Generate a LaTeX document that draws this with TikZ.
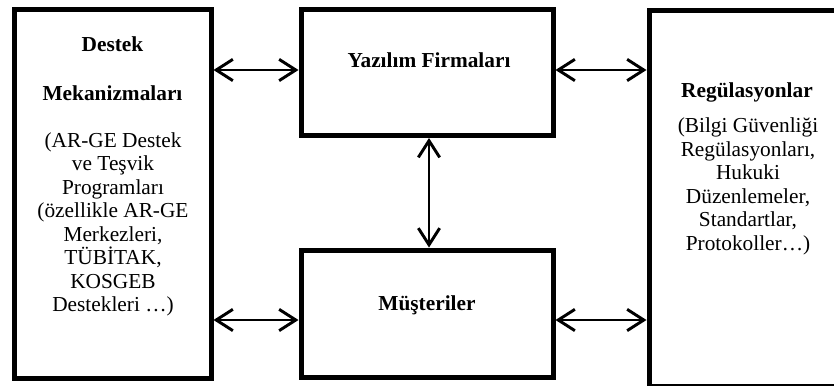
\documentclass[tikz,border=0pt]{standalone}
\usepackage{fontspec}
\setmainfont{Liberation Serif}
\usetikzlibrary{arrows.meta}
\tikzset{
  box/.style={draw, line width=3.75pt, inner sep=0pt, line join=miter},
  arr/.style={line width=1.7pt, {Straight Barb[length=12.5pt,width=16pt,line width=2.2pt]}-{Straight Barb[length=12.5pt,width=16pt,line width=2.2pt]}},
  txt/.style={inner sep=0pt, align=center, font=\fontsize{16}{17.6}\selectfont},
  btxt/.style={inner sep=0pt, align=center, font=\fontsize{16}{17.6}\selectfont\bfseries},
}
\begin{document}
\begin{tikzpicture}[x=0.75pt,y=-0.75pt]
\clip (0,0) rectangle (834,385);
\fill[white] (0,0) rectangle (834,385);
% boxes
\node[box, minimum width=147.75pt, minimum height=277.1pt] (dm) at (112.5,194.25) {};
\node[box, minimum width=189pt, minimum height=94.5pt] (yf) at (427,72.5) {};
\node[box, minimum width=189pt, minimum height=95.6pt] (mu) at (427,313.75) {};
\node[box, minimum width=150.75pt, minimum height=281.25pt] (rg) at (749.5,198.5) {};
% texts
\node[btxt, anchor=base] (t1) at (112.5,51) {Destek};
\node[btxt, anchor=base] (t2) at (112.5,100) {Mekanizmaları};
\node[txt, anchor=base] (t3) at (113,311.5) {(AR-GE Destek\\ve Teşvik\\Programları\\(özellikle AR-GE\\Merkezleri,\\TÜBİTAK,\\KOSGEB\\Destekleri …)};
\node[btxt, anchor=base] (t4) at (429,68) {Yazılım Firmaları};
\node[btxt, anchor=base] (t5) at (427,310.5) {Müşteriler};
\node[btxt, anchor=base] (t6) at (747,98) {Regülasyonlar};
\node[txt, anchor=base] (t7) at (748,250.3) {(Bilgi Güvenliği\\Regülasyonları,\\Hukuki\\Düzenlemeler,\\Standartlar,\\Protokoller…)};
% arrow rows
\coordinate (r1) at (0,70);
\coordinate (r2) at (0,320);
\coordinate (vx) at (429,0);
\draw[arr] (dm.east |- r1) -- (yf.west |- r1);
\draw[arr] (dm.east |- r2) -- (mu.west |- r2);
\draw[arr] (yf.east |- r1) -- (rg.west |- r1);
\draw[arr] (mu.east |- r2) -- (rg.west |- r2);
\draw[arr] (yf.south -| vx) -- (mu.north -| vx);
\end{tikzpicture}
\end{document}
